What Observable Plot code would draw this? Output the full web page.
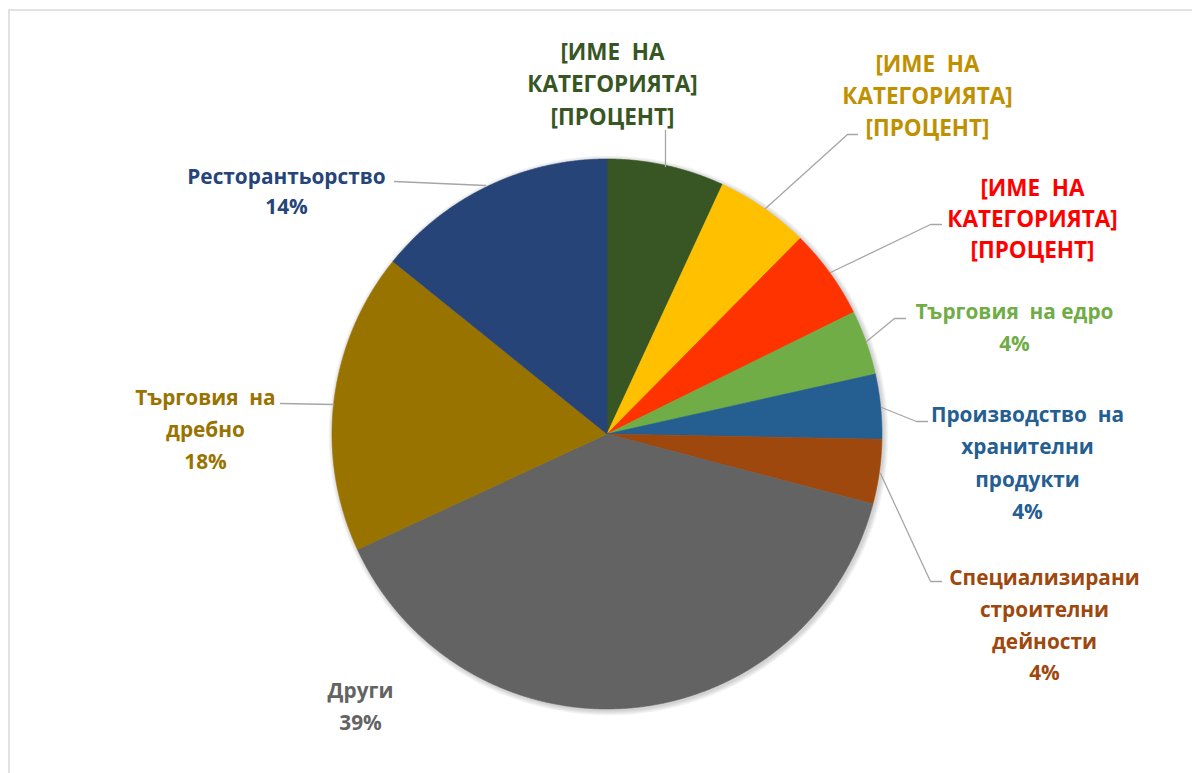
<!DOCTYPE html>
<html><head><meta charset="utf-8">
<script src="https://cdn.jsdelivr.net/npm/d3@7"></script>
<script src="https://cdn.jsdelivr.net/npm/@observablehq/plot@0.6"></script>
<style>html,body{margin:0;padding:0;background:#fff;} #chart svg{display:block}</style>
</head><body><div id="chart"></div>
<script>
// ---- data ----
const categories = [
  "[ИМЕ НА КАТЕГОРИЯТА] 1",
  "[ИМЕ НА КАТЕГОРИЯТА] 2",
  "[ИМЕ НА КАТЕГОРИЯТА] 3",
  "Търговия на едро",
  "Производство на хранителни продукти",
  "Специализирани строителни дейности",
  "Други",
  "Търговия на дребно",
  "Ресторантьорство"
];
const shares = [6.9, 5.5, 5.3, 3.8, 3.8, 3.8, 39.0, 17.7, 14.2];
const showPercent = [false, false, false, true, true, true, true, true, true];
const labelLines = [
  ["[ИМЕ  НА", "КАТЕГОРИЯТА]", "[ПРОЦЕНТ]"],
  ["[ИМЕ  НА", "КАТЕГОРИЯТА]", "[ПРОЦЕНТ]"],
  ["[ИМЕ  НА", "КАТЕГОРИЯТА]", "[ПРОЦЕНТ]"],
  ["Търговия  на едро"],
  ["Производство  на", "хранителни", "продукти"],
  ["Специализирани", "строителни", "дейности"],
  ["Други"],
  ["Търговия  на", "дребно"],
  ["Ресторантьорство"]
];
const sliceColors = ["#375623","#FFC000","#FF3300","#70AD47","#255E91","#9E480E","#636363","#997300","#264478"];
const labelColors = ["#375623","#BF9000","#FF0000","#70AD47","#255E91","#9E480E","#636363","#997300","#264478"];

// ---- layout (pixels) ----
const W = 1192, H = 773;
const center = [607, 434], radius = 275;
const labelPos = [[612,52],[927,64],[1032,188],[1014,312],[1027,415],[1044,578],[360,691],[205,398],[286,177]];
const lineStep = [32.5,32,31,32,32.3,31.7,32,32,30];
const labelSize = [22.5,22.5,22.5,20.8,20.8,20.8,20.8,20.8,20.8];
const leaders = [
  [[665,166],[665,130]],
  [[765,208],[847,134],[857,134]],
  [[830,272],[930,224],[941,224]],
  [[866,341],[894,318],[905,318]],
  [[881,407],[916,421],[927,421]],
  [[880,473],[930,581],[941,581]],
  [],
  [[333,404],[280,403]],
  [[485,185],[394,181]]
];

// ---- build ----
const data = categories.map((c, i) => ({cat: c, share: shares[i], i}));
const arcs = d3.pie().sort(null).value(d => d.share)(data);
const slices = arcs.map(a => {
  const n = Math.max(8, Math.ceil((a.endAngle - a.startAngle) / 0.005));
  const ring = [[center[0], center[1]]];
  for (let k = 0; k <= n; k++) {
    const t = a.startAngle + (a.endAngle - a.startAngle) * k / n;
    ring.push([center[0] + radius * Math.sin(t), center[1] - radius * Math.cos(t)]);
  }
  ring.push([center[0], center[1]]);
  return {cat: a.data.cat, color: sliceColors[a.data.i], ring};
});
const textRows = [];
data.forEach((d, i) => {
  const lines = labelLines[i].slice();
  if (showPercent[i]) lines.push(Math.round(d.share) + "%");
  lines.forEach((t, j) => textRows.push({text: t, color: labelColors[i], size: labelSize[i], x: labelPos[i][0], y: labelPos[i][1] + j * lineStep[i]}));
});
const leaderPts = [];
leaders.forEach((pts, i) => pts.forEach(p => leaderPts.push({cat: categories[i], x: p[0], y: p[1]})));
const shadowRings = [1, 2, 3, 4, 5].map(k => ({x: center[0] + 1, y: center[1] + 1, r: radius + k}));

// custom mark: each slice is a polygon drawn through Plot's x/y scales
function sliceMark(data) {
  return (index, scales) => {
    const g = d3.create("svg:g").attr("aria-label", "pie");
    for (const s of data) {
      const path = d3.line().x(p => scales.x(p[0])).y(p => scales.y(p[1]))(s.ring) + "Z";
      g.append("path").attr("d", path).attr("fill", s.color).attr("stroke", s.color).attr("stroke-width", 0.6).attr("stroke-linejoin", "round");
    }
    return g.node();
  };
}

const chart = Plot.plot({
  width: W, height: H,
  margin: 0,
  x: {domain: [0, W], range: [0, W], axis: null},
  y: {domain: [0, H], range: [0, H], axis: null},
  color: {type: "identity"},
  r: {type: "identity"},
  style: {fontFamily: "'Open Sans', sans-serif", background: "#fff"},
  marks: [
    Plot.ruleY([9.5], {x1: 8.5, x2: W, stroke: "#d9d9d9", strokeWidth: 1.5}),
    Plot.ruleX([8.5], {y1: 9.5, y2: H, stroke: "#d9d9d9", strokeWidth: 1.5}),
    Plot.dot(shadowRings, {x: "x", y: "y", r: "r", fill: "#000", fillOpacity: 0.035, stroke: null}),
    sliceMark(slices),
    Plot.line(leaderPts, {x: "x", y: "y", z: "cat", stroke: "#A6A6A6", strokeWidth: 1.3}),
    Plot.text(textRows, {x: "x", y: "y", text: "text", fill: "color", fontSize: "size", fontWeight: 700, textAnchor: "middle", lineAnchor: "middle"})
  ]
});

const svg = d3.select(chart);
svg.selectAll("text").style("white-space", "pre");
document.getElementById("chart").appendChild(chart);
</script>
</body></html>
